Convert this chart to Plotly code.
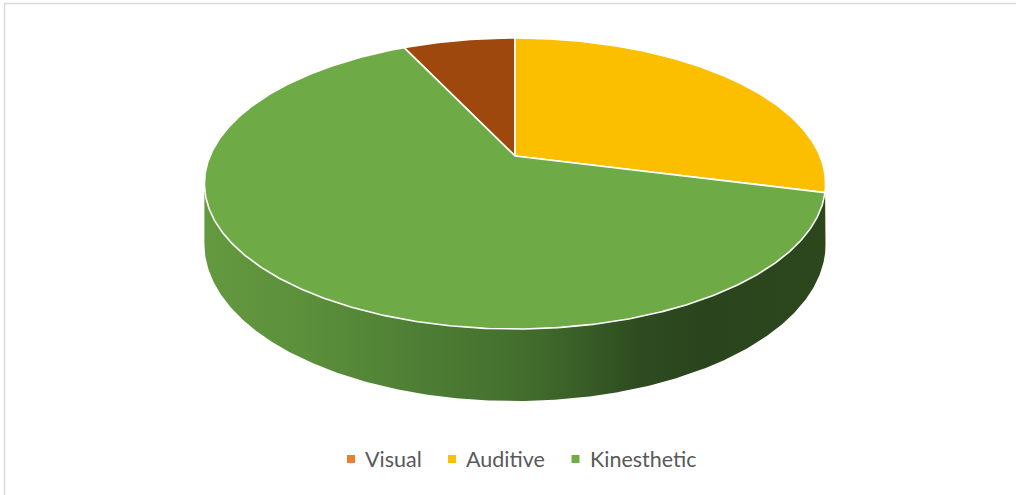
import math
import plotly.graph_objects as go

# Learning-style distribution
categories = ["Visual", "Auditive", "Kinesthetic"]
values = [7, 29, 64]

top_colors = ["#9E480E", "#FBBF00", "#6EAB47"]     # slice top faces
legend_colors = ["#ED7D31", "#FFC000", "#70AD47"]  # legend swatches
side_scales = [
    [[0, "#5a2a08"], [1, "#3a1b05"]],
    [[0, "#8a6a00"], [1, "#6a5200"]],
    [[0.0, "#63993f"], [0.154, "#5c903b"], [0.347, "#4e7e34"], [0.5, "#44702e"],
     [0.605, "#395e27"], [0.701, "#2e4b20"], [0.797, "#2a451d"], [1.0, "#2c471e"]],
]

W, H_FIG = 1016, 495
FIRST_SLICE_ANGLE = 334.8   # degrees, clockwise from 12 o'clock

# perspective disc geometry (pixel space)
CX, CY = 515.0, 156.0
RX, RY = 305.0, 140.3
PERSP = 0.189
DEPTH = 58.4


def proj(theta_deg, level=0.0):
    t = math.radians(theta_deg)
    X, Y = math.sin(t), math.cos(t)
    s = 1.0 / (1.0 + PERSP * Y)
    return CX + RX * X * s, CY - RY * Y * s + DEPTH * s * level


def arc(a0, a1, level=0.0, n=None):
    if n is None:
        n = max(2, int(abs(a1 - a0) * 2) + 1)
    pts = [proj(a0 + (a1 - a0) * i / (n - 1), level) for i in range(n)]
    return [p[0] for p in pts], [p[1] for p in pts]


total = float(sum(values))
spans = []
start = FIRST_SLICE_ANGLE
for v in values:
    sweep = v / total * 360.0
    spans.append((start, start + sweep))
    start += sweep

# visible front wall runs between the silhouette angles
edge = math.degrees(math.acos(-PERSP))
vis_lo, vis_hi = edge, 360.0 - edge

fig = go.Figure()

# side walls
for i, (a0, a1) in enumerate(spans):
    for shift in (-360.0, 0.0, 360.0):
        lo = max(a0 + shift, vis_lo)
        hi = min(a1 + shift, vis_hi)
        if hi - lo <= 0.01:
            continue
        tx, ty = arc(lo, hi, 0.0)
        bx, by = arc(hi, lo, 1.0)
        fig.add_trace(go.Scatter(
            x=tx + bx + [tx[0]], y=ty + by + [ty[0]],
            mode="lines", fill="toself", line=dict(width=0),
            fillcolor=side_scales[i][0][1],
            fillgradient=dict(type="horizontal", colorscale=side_scales[i],
                              start=CX - RX * 1.02, stop=CX + RX * 1.02),
            hoverinfo="skip", showlegend=False))

# top faces
for i, (a0, a1) in enumerate(spans):
    ax, ay = arc(a0, a1, 0.0)
    xs = [CX] + ax + [CX]
    ys = [CY] + ay + [CY]
    fig.add_trace(go.Scatter(
        x=xs, y=ys, mode="lines", fill="toself",
        fillcolor=top_colors[i], line=dict(color="white", width=1.6),
        hoverinfo="skip", showlegend=False, name=categories[i]))

# legend
leg_x = [351, 452, 575.5]
leg_y = 459
fig.add_trace(go.Scatter(
    x=leg_x, y=[leg_y] * 3, mode="markers",
    marker=dict(symbol="square", size=8, color=legend_colors, line=dict(width=0)),
    hoverinfo="skip", showlegend=False))
for xm, name in zip(leg_x, categories):
    fig.add_annotation(x=xm + 12, y=leg_y, text=name, showarrow=False,
                       xanchor="left", yanchor="middle",
                       font=dict(family="Lato", size=21.5, color="#595959"))

# chart frame
fig.add_shape(type="rect", xref="paper", yref="paper",
              x0=4.5 / W, x1=1.2, y0=-0.2, y1=1 - 3.5 / H_FIG,
              line=dict(color="#d9d9d9", width=1.5), fillcolor="rgba(0,0,0,0)")

fig.update_layout(
    width=W, height=H_FIG, margin=dict(l=0, r=0, t=0, b=0),
    paper_bgcolor="white", plot_bgcolor="white",
    xaxis=dict(range=[0, W], visible=False, fixedrange=True),
    yaxis=dict(range=[H_FIG, 0], visible=False, fixedrange=True),
    showlegend=False,
)

fig.write_html("out.html")
